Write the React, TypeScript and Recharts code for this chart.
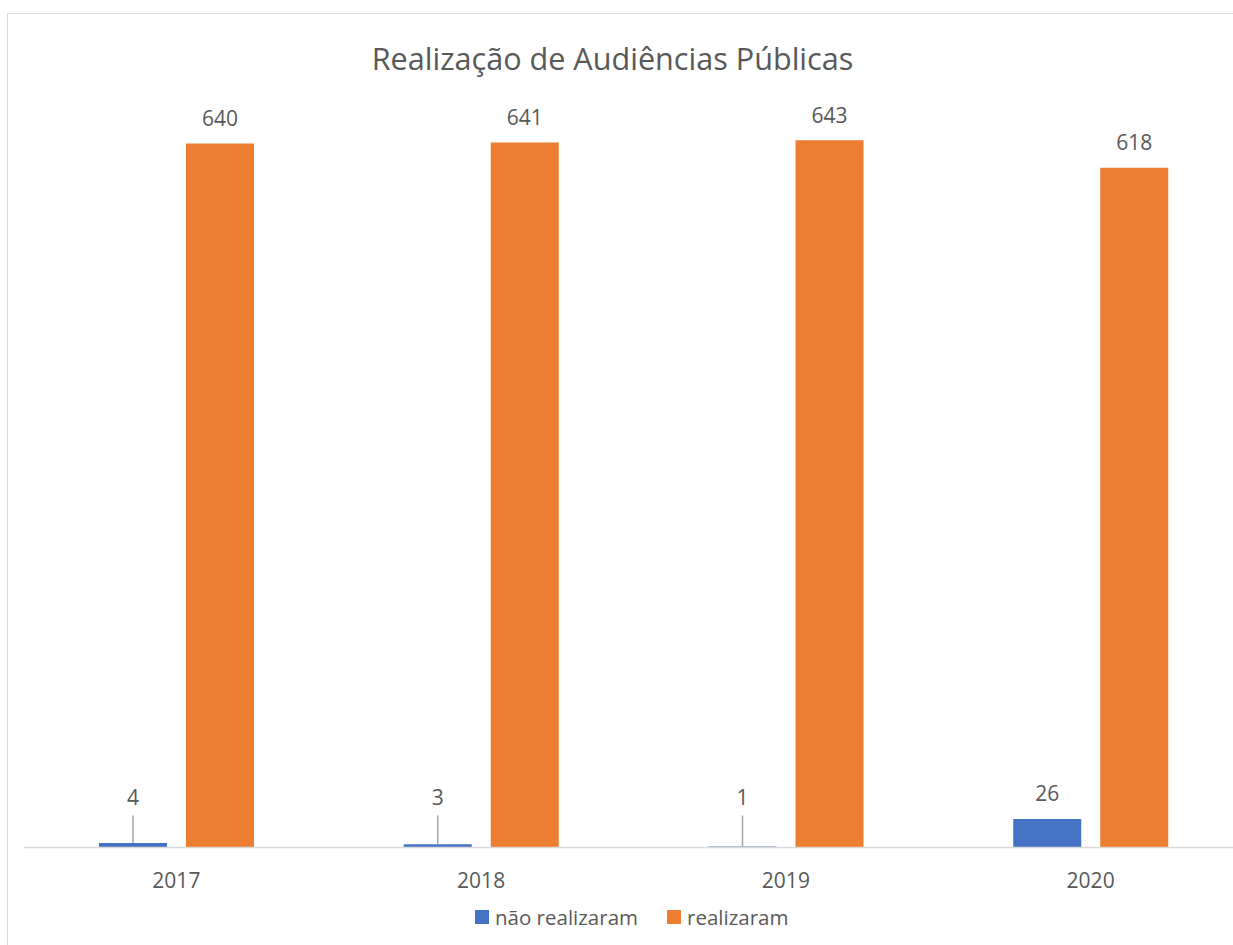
import React from "react";
import { BarChart, Bar, XAxis, YAxis, LabelList, Legend } from "recharts";

const years = ["2017", "2018", "2019", "2020"];
const naoRealizaram = [4, 3, 1, 26];
const realizaram = [640, 641, 643, 618];
const seriesNames = ["não realizaram", "realizaram"];
const seriesColors = ["#4472C4", "#ED7D31"];
const yDomain = [0, 700];

const FONT = "'Open Sans', sans-serif";
const TEXT = "#595959";
const FS = 21;

const data = years.map((year, i) => ({
  year,
  nao: naoRealizaram[i],
  sim: realizaram[i],
}));

const YearTick = (props: any) => (
  <text
    x={props.x}
    y={props.y + 40.5}
    textAnchor="middle"
    fill={TEXT}
    fontSize={FS}
    fontFamily={FONT}
  >
    {props.payload.value}
  </text>
);

// tiny bars get their label lifted up with a leader line, like Excel does
const SmallBarLabel = (props: any) => {
  const { x, y, width, height, value } = props;
  const cx = x + width / 2;
  if (height > 12) {
    return (
      <text x={cx} y={y - 17.5} textAnchor="middle" fill={TEXT} fontSize={FS} fontFamily={FONT}>
        {value}
      </text>
    );
  }
  const base = y + height;
  return (
    <g>
      <text x={cx} y={base - 43} textAnchor="middle" fill={TEXT} fontSize={FS} fontFamily={FONT}>
        {value}
      </text>
      <line x1={cx} x2={cx} y1={base - 32} y2={y} stroke="#A6A6A6" strokeWidth={1.5} />
    </g>
  );
};

const LegendContent = () => (
  <div
    style={{
      display: "flex",
      alignItems: "center",
      fontFamily: FONT,
      fontSize: 20.5,
      color: TEXT,
      lineHeight: "24px",
      whiteSpace: "nowrap",
    }}
  >
    {seriesNames.map((name, i) => (
      <div key={name} style={{ display: "flex", alignItems: "center", marginRight: 29 }}>
        <span
          style={{
            width: 14,
            height: 14,
            background: seriesColors[i],
            marginRight: 6,
            display: "inline-block",
          }}
        />
        <span>{name}</span>
      </div>
    ))}
  </div>
);

export default function App() {
  return (
    <div
      style={{
        position: "fixed",
        left: 0,
        top: 0,
        width: 1233,
        height: 945,
        overflow: "hidden",
        background: "#fff",
      }}
    >
      <div
        style={{
          position: "absolute",
          left: 7,
          top: 13,
          width: 1250,
          height: 940,
          border: "1px solid #D9D9D9",
        }}
      >
        <svg
          width={1250}
          height={100}
          style={{ position: "absolute", left: 0, top: 0, pointerEvents: "none" }}
        >
          <text x={604.5} y={56} textAnchor="middle" fill={TEXT} fontSize={30.6} fontFamily={FONT}>
            Realização de Audiências Públicas
          </text>
        </svg>
        <BarChart
          width={1250}
          height={940}
          data={data}
          margin={{ top: 63.5, right: 15, bottom: 76.5, left: 16 }}
          barSize={68}
          barGap={19}
          barCategoryGap={75}
        >
          <XAxis
            dataKey="year"
            height={30}
            axisLine={{ stroke: "#D9D9D9", strokeWidth: 1.5 }}
            tickLine={false}
            tickSize={0}
            tickMargin={0}
            tick={<YearTick />}
          />
          <YAxis hide domain={yDomain} />
          <Legend
            layout="horizontal"
            verticalAlign="middle"
            align="center"
            content={<LegendContent />}
            wrapperStyle={{ left: 467, top: 891, width: "auto" }}
          />
          <Bar dataKey="nao" name={seriesNames[0]} fill={seriesColors[0]} isAnimationActive={false}>
            <LabelList dataKey="nao" content={<SmallBarLabel />} />
          </Bar>
          <Bar dataKey="sim" name={seriesNames[1]} fill={seriesColors[1]} isAnimationActive={false}>
            <LabelList
              dataKey="sim"
              position="top"
              offset={17.5}
              fill={TEXT}
              fontSize={FS}
              fontFamily={FONT}
            />
          </Bar>
        </BarChart>
      </div>
    </div>
  );
}
